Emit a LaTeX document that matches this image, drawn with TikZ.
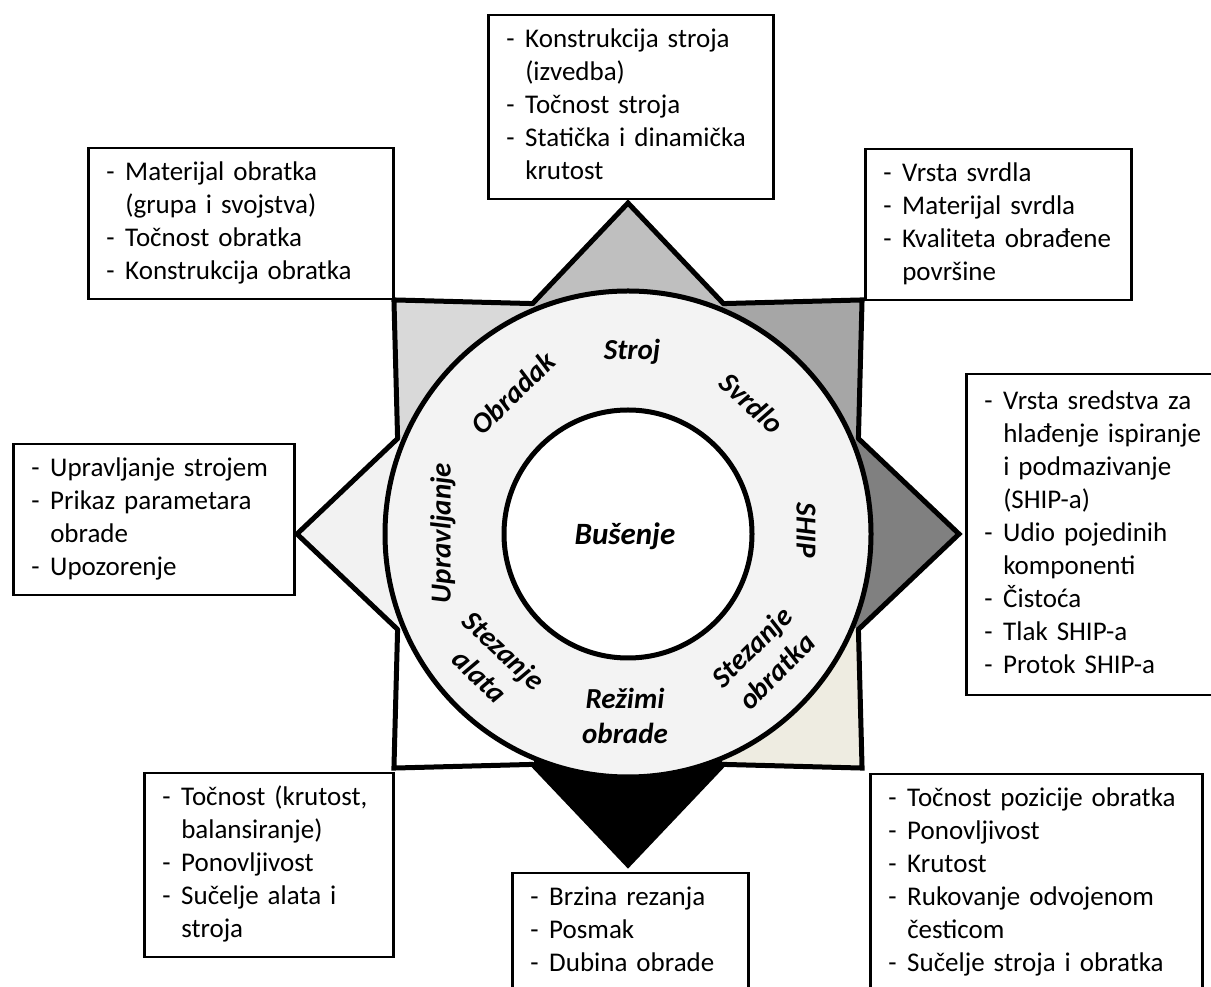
\documentclass[tikz,border=0pt]{standalone}
\usepackage{fontspec}
\setmainfont{Carlito}
\usepackage{tikz}
\usetikzlibrary{positioning}
\definecolor{strojgray}{RGB}{191,191,191}
\definecolor{svrdlogray}{RGB}{166,166,166}
\definecolor{shipgray}{RGB}{128,128,128}
\definecolor{stezanjebeige}{RGB}{238,236,225}
\definecolor{upravljanjegray}{RGB}{242,242,242}
\definecolor{obradakgray}{RGB}{217,217,217}
\definecolor{ringgray}{RGB}{243,243,243}
\newcommand{\stavka}[1]{\strut\makebox[19pt][l]{-}\mbox{#1}}
\newcommand{\dalje}[1]{\strut\hspace*{19pt}\mbox{#1}}
\tikzset{
    infobox/.style={draw, line width=2.5pt, fill=white, anchor=north west,
        inner xsep=18pt, inner ysep=9.5pt, align=left,
        font=\fontsize{27}{33}\selectfont},
    ringlabel/.style={font=\fontsize{29}{35}\selectfont\bfseries\itshape,
        align=center, inner sep=0pt},
    starline/.style={line width=5pt, line join=miter, line cap=round}
}

\begin{document}
\begin{tikzpicture}[x=1pt, y=1pt]
    \useasboundingbox (0,0) rectangle (1211,986);
    \fill[white] (0,0) rectangle (1211,986);

    % Star
    \begin{scope}[shift={(628,452)}]
        \foreach \kut/\boja in {90/strojgray, 45/svrdlogray, 0/shipgray, -45/stezanjebeige,
                                -90/black, -135/white, 180/upravljanjegray, 135/obradakgray} {
            \fill[\boja] (0,0) -- (\kut-22.5:249.4) -- (\kut:331) -- (\kut+22.5:249.4) -- cycle;
            \draw[starline] (\kut-22.5:249.4) -- (\kut:331) -- (\kut+22.5:249.4);
        }
        % Rings
        \draw[starline, fill=ringgray] (0,0) circle[radius=243];
        \draw[starline, fill=white] (0,0) circle[radius=124];
        \node[ringlabel, font=\fontsize{31}{35}\selectfont\bfseries\itshape] (busenje) at (-3,-2) {Bušenje};
    \end{scope}

    % Ring labels
    \node[ringlabel] (lStroj) at (632,634) {Stroj};
    \node[ringlabel, rotate=-42] (lSvrdlo) at (752,583) {Svrdlo};
    \node[ringlabel, rotate=-90] (lShip) at (806,456) {SHIP};
    \node[ringlabel, rotate=45] (lStezanjeObratka) at (764,327) {Stezanje\\obratka};
    \node[ringlabel] (lRezimi) at (625,270) {Režimi\\obrade};
    \node[ringlabel, rotate=-43] (lStezanjeAlata) at (492,323) {Stezanje\\alata};
    \node[ringlabel, rotate=90] (lUpravljanje) at (443,453) {Upravljanje};
    \node[ringlabel, rotate=44] (lObradak) at (513,593) {Obradak};

    % Boxes
    \node[infobox, text width=249pt] (bStroj) at (487,972)
        {\stavka{Konstrukcija stroja}\\ \dalje{(izvedba)}\\ \stavka{Točnost stroja}\\
         \stavka{Statička i dinamička}\\ \dalje{krutost}};
    \node[infobox, text width=269pt] (bObradak) at (87,839)
        {\stavka{Materijal obratka}\\ \dalje{(grupa i svojstva)}\\ \stavka{Točnost obratka}\\
         \stavka{Konstrukcija obratka}};
    \node[infobox, text width=230pt] (bSvrdlo) at (864,838)
        {\stavka{Vrsta svrdla}\\ \stavka{Materijal svrdla}\\ \stavka{Kvaliteta obrađene}\\
         \dalje{površine}};
    \node[infobox, text width=245pt] (bUpravljanje) at (12,543)
        {\stavka{Upravljanje strojem}\\ \stavka{Prikaz parametara}\\ \dalje{obrade}\\
         \stavka{Upozorenje}};
    \node[infobox, text width=224pt, inner ysep=12pt] (bShip) at (965,613)
        {\stavka{Vrsta sredstva za}\\ \dalje{hlađenje ispiranje}\\ \dalje{i podmazivanje}\\
         \dalje{(SHIP-a)}\\ \stavka{Udio pojedinih}\\ \dalje{komponenti}\\ \stavka{Čistoća}\\
         \stavka{Tlak SHIP-a}\\ \stavka{Protok SHIP-a}};
    \node[infobox, text width=213pt] (bStezanjeAlata) at (143,214)
        {\stavka{Točnost (krutost,}\\ \dalje{balansiranje)}\\ \stavka{Ponovljivost}\\
         \stavka{Sučelje alata i}\\ \dalje{stroja}};
    \node[infobox, text width=200pt] (bRezimi) at (511,114)
        {\stavka{Brzina rezanja}\\ \stavka{Posmak}\\ \stavka{Dubina obrade}};
    \node[infobox, text width=296pt] (bStezanjeObratka) at (869,213)
        {\stavka{Točnost pozicije obratka}\\ \stavka{Ponovljivost}\\ \stavka{Krutost}\\
         \stavka{Rukovanje odvojenom}\\ \dalje{česticom}\\ \stavka{Sučelje stroja i obratka}};
\end{tikzpicture}
\end{document}
